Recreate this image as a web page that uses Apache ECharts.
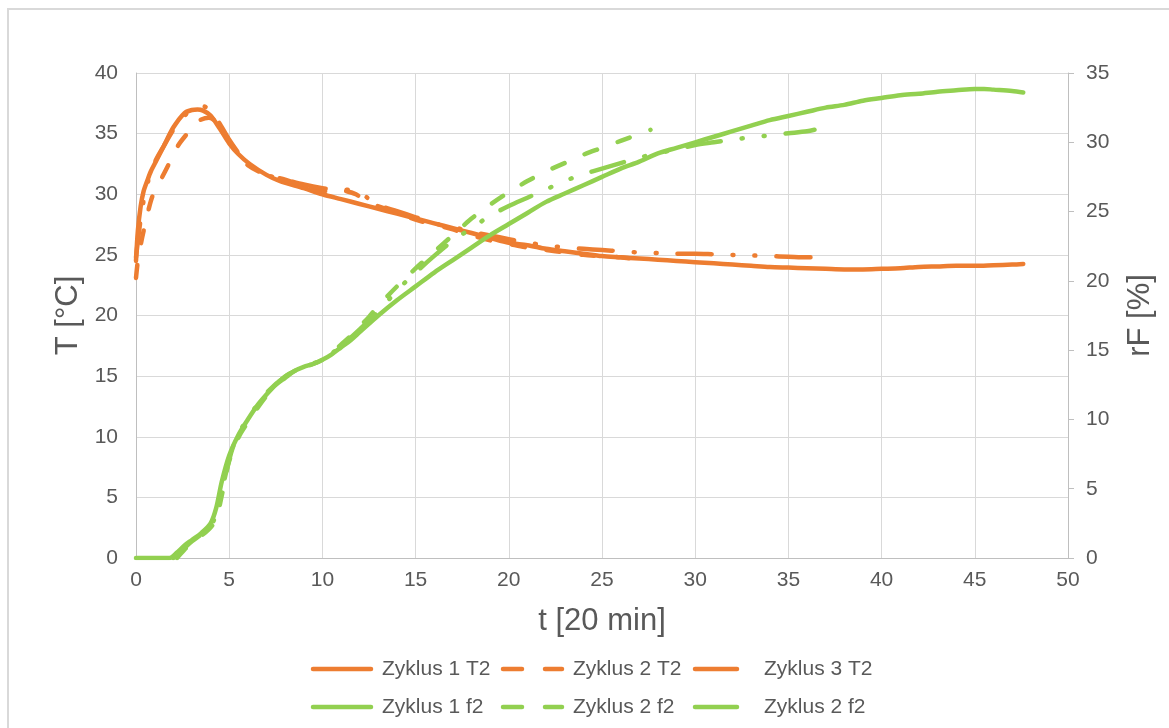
<!DOCTYPE html>
<html>
<head>
<meta charset="utf-8">
<script src="https://cdn.jsdelivr.net/npm/echarts@6/dist/echarts.min.js"></script>
<style>
html,body{margin:0;padding:0;background:#fff;}
#c{width:1169px;height:728px;}
</style>
</head>
<body>
<div id="c"></div>
<script>
// ---- data (t in units of 20 min) ----
// Zyklus 1 T2 (solid orange) [°C]
const t_z1T = [0,0.1,0.25,0.4,0.6,0.8,1.1,1.5,2.0,2.6,3.0,3.3,3.6,4.0,4.5,5.0,5.5,6.1,7,7.7,9,10,11,12,13,14,15,16,17,18,19,20,21,22,23,24,25,26,27,28,29,30,31,32,33,34,35,36,37,38,39,40,41,42,43,44,45,46,47,47.6];
const v_z1T = [24.5,27,29,30.2,31.1,31.9,32.8,34.0,35.5,36.7,36.95,37.0,36.9,36.5,35.4,34.2,33.3,32.5,31.6,31.1,30.5,30.0,29.6,29.2,28.8,28.4,28.0,27.6,27.2,26.8,26.4,26.0,25.8,25.5,25.3,25.1,24.9,24.8,24.7,24.6,24.5,24.4,24.3,24.2,24.1,24.0,23.95,23.9,23.85,23.8,23.8,23.85,23.9,24.0,24.05,24.1,24.1,24.15,24.2,24.25];

// Zyklus 2 T2 (dashed orange)
const t_z2T = [0,0.1,0.3,0.5,0.65,0.9,1.4,1.8,2.25,2.8,3.3,3.9,4.3,4.7,5.0,5.5,6,7,8,9,10,10.6,11.2,11.8,12.4,13,14,15,16,17,18,19,20,21,22,23,24,25,26,27,27.5];
const v_z2T = [23.1,24.5,26.2,27.6,28.6,29.9,31.4,32.6,34.0,35.1,36.0,36.3,36.0,35.2,34.4,33.3,32.4,31.6,31.2,30.7,30.2,30.5,30.3,30.0,29.4,29.0,28.5,27.9,27.5,27.1,26.6,26.2,25.9,25.6,25.4,25.2,25.0,24.9,24.8,24.6,24.5];

// Zyklus 3 T2 (long dash - dot - dot orange)
const t_z3T = [0,0.3,0.6,1,1.5,2,2.5,3,3.5,4,4.5,5,5.5,6,7,8,9,10,11,11.5,12,12.5,13,14,15,16,17,18,19,20,21,22,23,24,25,26,27,28,29,30,31,32,33,34,35,36,36.5];
const v_z3T = [24.8,28.5,30.8,32.6,34.0,35.3,36.3,37.0,37.3,36.9,35.8,34.5,33.4,32.5,31.6,31.2,30.8,30.5,30.3,30.4,30.2,29.6,29.1,28.6,28.1,27.6,27.3,26.9,26.6,26.3,26.0,25.8,25.6,25.5,25.4,25.3,25.2,25.15,25.1,25.1,25.05,25.0,24.95,24.9,24.85,24.8,24.8];

// Zyklus 1 f2 (solid green) [%]
const t_z1f = [0,1.8,2.2,2.6,3.0,3.5,4.0,4.3,4.6,5.0,5.5,6.0,6.5,7,7.5,8,8.5,9,9.5,10,10.5,11,11.5,12,13,14,15,16,17,18,19,20,21,22,23,24,25,26,27,28,29,30,31,32,33,34,35,36,37,38,39,40,41,42,43,44,45,45.5,46,47,47.6];
const v_z1f = [0,0,0.4,0.9,1.3,1.8,2.5,3.6,5.5,7.4,8.9,10.0,11.0,11.8,12.5,13.0,13.5,13.8,14.0,14.3,14.7,15.2,15.7,16.3,17.5,18.6,19.6,20.6,21.5,22.4,23.3,24.1,24.9,25.7,26.3,26.9,27.5,28.1,28.6,29.2,29.6,30.0,30.4,30.8,31.2,31.6,31.9,32.2,32.5,32.7,33.0,33.2,33.4,33.5,33.65,33.75,33.85,33.85,33.8,33.7,33.6];

// Zyklus 2 f2 (dashed green)
const t_z2f = [2.2,2.6,3.0,3.5,4.0,4.3,4.6,5.0,5.5,6,6.5,7,7.5,8,8.5,9,9.5,10,10.5,11,11.5,12,12.5,13,14,15,16,17,17.5,18,19,20,21,22,23,24,25,26,27,27.6];
const v_z2f = [0,0.6,1.1,1.6,2.2,2.8,4.5,7.0,8.7,9.8,10.8,11.7,12.5,13.1,13.5,13.8,14.0,14.3,14.8,15.4,16.0,16.7,17.4,18.2,19.6,20.9,22.1,23.3,23.9,24.5,25.5,26.4,27.2,27.9,28.5,29.1,29.6,30.1,30.6,30.9];

// third green series (labelled "Zyklus 2 f2" in the original, long dash - dot - dot)
const t_z3f = [2.0,2.5,3.0,3.5,4.0,4.4,4.8,5.2,5.6,6,7,8,9,10,11,12,13,14,15,16,17,18,19,20,21,22,23,24,25,26,27,28,29,30,31,32,33,34,35,36,36.4];
const v_z3f = [0,0.6,1.2,1.7,2.3,3.5,6.0,8.0,9.2,10.1,11.9,13.1,13.8,14.3,15.3,16.5,17.8,19.3,20.6,21.8,22.9,23.8,24.7,25.4,26.0,26.6,27.2,27.7,28.1,28.5,28.9,29.2,29.5,29.8,30.0,30.2,30.35,30.5,30.65,30.8,30.9];

const names = ['Zyklus 1 T2','Zyklus 2 T2','Zyklus 3 T2','Zyklus 1 f2','Zyklus 2 f2','Zyklus 2 f2'];

// ---- build ----
const zip = (t, v) => t.map((x, i) => [x, v[i]]);
const ORANGE = '#ED7D31', GREEN = '#92D050';
const FONT = "'Liberation Sans', Arial, sans-serif";
const LW = 4.5;
const DASH = [13, 22];
const DASHDOT = [34, 21, 1, 21, 1, 21];

function mk(name, t, v, color, type, yIdx) {
  return {
    name, type: 'line', yAxisIndex: yIdx, data: zip(t, v),
    showSymbol: false, symbol: 'none', smooth: 0.3,
    lineStyle: { color, width: LW, type, cap: 'round', join: 'round' },
    itemStyle: { color }
  };
}

// legend drawn as graphic elements (two rows of three, fixed columns)
const legendCols = [311, 501, 693];
const legendTextX = [382, 573, 764];
const legendRowsY = [669, 707];
const legendGraphic = [];
names.forEach((nm, i) => {
  const row = Math.floor(i / 3), col = i % 3;
  const y = legendRowsY[row];
  const color = row === 0 ? ORANGE : GREEN;
  const x0 = legendCols[col];
  const segs = col === 0 ? [[x0 + 2, x0 + 60]] : col === 1 ? [[x0 + 2, x0 + 21], [x0 + 44, x0 + 61]] : [[x0 + 2, x0 + 44]];
  segs.forEach(s => legendGraphic.push({
    type: 'line', silent: true,
    shape: { x1: s[0], y1: y, x2: s[1], y2: y },
    style: { stroke: color, lineWidth: LW, lineCap: 'round' }
  }));
  legendGraphic.push({
    type: 'text', silent: true, x: legendTextX[col], y: y,
    style: { text: nm, fill: '#595959', font: "21px 'Liberation Sans', Arial, sans-serif", verticalAlign: 'middle', align: 'left' }
  });
});

const axisLabelStyle = { fontFamily: FONT, fontSize: 21, color: '#595959' };
const nameStyle = { fontFamily: FONT, fontSize: 31, color: '#595959' };

const option = {
  animation: false,
  backgroundColor: '#ffffff',
  graphic: [{
    type: 'rect', silent: true, z: -10,
    shape: { x: 8, y: 9, width: 1180, height: 740 },
    style: { fill: 'none', stroke: '#d9d9d9', lineWidth: 2 }
  }].concat(legendGraphic),
  grid: { left: 136, right: 101, top: 73, bottom: 170 },
  xAxis: {
    type: 'value', min: 0, max: 50, interval: 5,
    name: 't [20 min]', nameLocation: 'middle', nameGap: 48, nameTextStyle: nameStyle,
    axisLine: { show: true, lineStyle: { color: '#bfbfbf', width: 1 } },
    axisTick: { show: false },
    axisLabel: Object.assign({ margin: 12 }, axisLabelStyle),
    splitLine: { show: true, lineStyle: { color: '#d9d9d9', width: 1 } }
  },
  yAxis: [{
    type: 'value', min: 0, max: 40, interval: 5, position: 'left',
    name: 'T [°C]', nameLocation: 'middle', nameGap: 39, nameRotate: 90, nameTextStyle: nameStyle,
    axisLine: { show: true, lineStyle: { color: '#bfbfbf', width: 1 } },
    axisTick: { show: false },
    axisLabel: Object.assign({ margin: 18 }, axisLabelStyle),
    splitLine: { show: true, lineStyle: { color: '#d9d9d9', width: 1 } }
  }, {
    type: 'value', min: 0, max: 35, interval: 5, position: 'right',
    name: 'rF [%]', nameLocation: 'middle', nameGap: 57, nameRotate: 90, nameTextStyle: nameStyle,
    axisLine: { show: true, lineStyle: { color: '#bfbfbf', width: 1 } },
    axisTick: { show: true, inside: false, length: 6, lineStyle: { color: '#bfbfbf' } },
    axisLabel: Object.assign({ margin: 18 }, axisLabelStyle),
    splitLine: { show: false }
  }],
  series: [
    mk(names[0], t_z1T, v_z1T, ORANGE, 'solid', 0),
    mk(names[1], t_z2T, v_z2T, ORANGE, DASH, 0),
    mk(names[2], t_z3T, v_z3T, ORANGE, DASHDOT, 0),
    mk(names[3], t_z1f, v_z1f, GREEN, 'solid', 1),
    mk(names[4], t_z2f, v_z2f, GREEN, DASH, 1),
    mk(names[5], t_z3f, v_z3f, GREEN, DASHDOT, 1)
  ]
};

const chart = echarts.init(document.getElementById('c'), null, { renderer: 'canvas' });
chart.setOption(option);
</script>
</body>
</html>
